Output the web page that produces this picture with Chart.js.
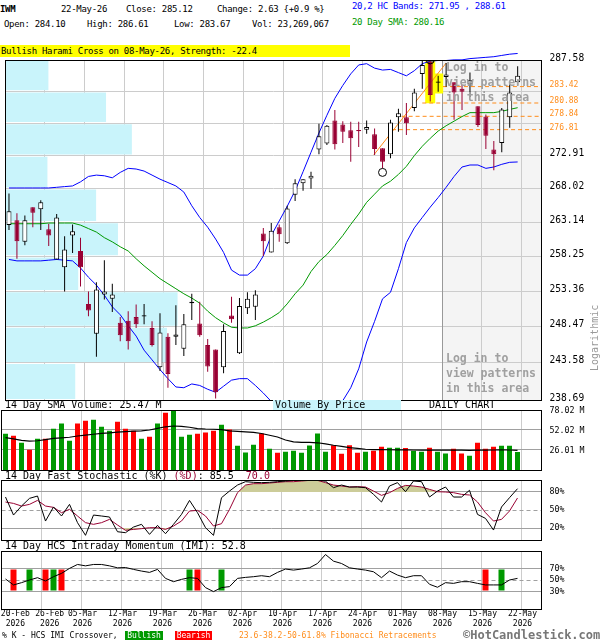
<!DOCTYPE html>
<html>
<head>
<meta charset="utf-8">
<script src="https://cdn.jsdelivr.net/npm/chart.js@4.4.1/dist/chart.umd.min.js"></script>
<style>
  body { margin: 0; width: 600px; height: 640px; position: relative; overflow: hidden; background: #fff;
         font-family: 'DejaVu Sans Mono', monospace; color: #000; }
  .t { position: absolute; white-space: pre; line-height: 12px; }
  .hd { font-size: 9px; letter-spacing: -0.3px; }
  .ttl { font-size: 10px; }
  .sm { font-size: 8px; }
  canvas { position: absolute; left: 0; }
  .login { position: absolute; left: 446px; font-size: 11.5px; font-weight: bold; color: #a0a0a0;
           line-height: 15px; white-space: pre; }
</style>
</head>
<body>
<div class="t hd" style="left:0;top:3px;font-weight:bold">IWM</div>
<div class="t hd" style="left:61px;top:3px">22-May-26</div>
<div class="t hd" style="left:126px;top:3px">Close: 285.12</div>
<div class="t hd" style="left:217px;top:3px">Change: 2.63 {+0.9 %}</div>
<div class="t hd" style="left:352px;top:0px;color:#0000ff">20,2 HC Bands: 271.95 , 288.61</div>
<div class="t hd" style="left:4px;top:18px">Open: 284.10</div>
<div class="t hd" style="left:87px;top:18px">High: 286.61</div>
<div class="t hd" style="left:174px;top:18px">Low: 283.67</div>
<div class="t hd" style="left:252px;top:18px">Vol: 23,269,067</div>
<div class="t hd" style="left:352px;top:16px;color:#009900">20 Day SMA: 280.16</div>
<div class="t hd" style="left:0;top:45px;width:349px;height:12px;background:#ffff00;padding-left:1px">Bullish Harami Cross on 08-May-26, Strength: -22.4</div>

<canvas id="main" width="600" height="360" style="top:50px"></canvas>
<canvas id="vol" width="600" height="75" style="top:400px"></canvas>
<canvas id="stoch" width="600" height="75" style="top:470px"></canvas>
<canvas id="imi" width="600" height="100" style="top:540px"></canvas>

<div class="login" style="top:60px">Log in to
view patterns
in this area</div>
<div class="login" style="top:351px">Log in to
view patterns
in this area</div>
<div class="t" style="left:562px;top:332px;width:66px;text-align:center;font-size:10px;color:#999;transform:rotate(-90deg)">Logarithmic</div>

<div class="t ttl" style="left:5px;top:399px">14 Day SMA Volume: 25.47 M</div>
<div class="t ttl" style="left:273px;top:400px;width:128px;height:10px;line-height:10px;background:#c9f4fb;padding-left:2px;box-sizing:border-box">Volume By Price</div>
<div class="t ttl" style="left:429px;top:399px">DAILY CHART</div>
<div class="t ttl" style="left:5px;top:470px">14 Day Fast Stochastic (%K) <span style="color:#990033">(%D)</span>: 85.5  <span style="color:#990033">70.0</span></div>
<div class="t ttl" style="left:5px;top:540px">14 Day HCS Intraday Momentum (IMI): 52.8</div>

<div class="t sm" style="left:2px;top:630px">% K - HCS IMI Crossover,</div>
<div class="t sm" style="left:125px;top:631px;width:38px;height:9px;line-height:9px;background:#009900;color:#fff;text-align:center">Bullish</div>
<div class="t sm" style="left:175px;top:631px;width:37px;height:9px;line-height:9px;background:#ff0000;color:#fff;text-align:center">Bearish</div>
<div class="t sm" style="left:239px;top:630px;color:#ff8c1a">23.6-38.2-50-61.8% Fibonacci Retracements</div>
<div class="t" style="left:463px;top:629px;font-size:12px;font-weight:bold;color:#777">&copy;HotCandlestick.com</div>

<script>
const dates = [
  '20-Feb','23-Feb','24-Feb','25-Feb','26-Feb','27-Feb',
  '02-Mar','03-Mar','04-Mar','05-Mar','06-Mar',
  '09-Mar','10-Mar','11-Mar','12-Mar','13-Mar',
  '16-Mar','17-Mar','18-Mar','19-Mar','20-Mar',
  '23-Mar','24-Mar','25-Mar','26-Mar','27-Mar',
  '30-Mar','31-Mar','01-Apr','02-Apr',
  '06-Apr','07-Apr','08-Apr','09-Apr','10-Apr',
  '13-Apr','14-Apr','15-Apr','16-Apr','17-Apr',
  '20-Apr','21-Apr','22-Apr','23-Apr','24-Apr',
  '27-Apr','28-Apr','29-Apr','30-Apr','01-May',
  '04-May','05-May','06-May','07-May','08-May',
  '11-May','12-May','13-May','14-May','15-May',
  '18-May','19-May','20-May','21-May','22-May'
];

const opens = [262.7, 263.4, 260.3, 265.3, 265.0, 262.1, 257.8, 256.7, 261.2, 259.0,
  251.6, 247.5, 252.9, 252.3, 249.0, 249.3, 249.8, 249.85, 248.3, 243.0,
  247.1, 247.1, 245.5, 251.7, 248.9, 246.0, 245.4, 243.0, 250.0, 244.9,
  251.0, 251.2, 261.5, 258.8, 262.4, 260.1, 267.1, 268.8, 269.5, 273.8,
  274.7, 278.2, 277.6, 276.7, 276.75, 276.8, 276.1, 274.0, 273.1, 278.7,
  278.7, 280.1, 285.4, 287.3, 284.0, 284.9, 284.1, 283.1, 283.8, 280.4,
  278.8, 273.8, 274.8, 278.7, 284.10];
const highs = [267.3, 264.4, 264.1, 265.3, 266.3, 262.9, 264.3, 261.1, 262.8, 260.9,
  253.3, 254.6, 257.7, 254.4, 249.8, 250.6, 251.5, 251.6, 249.2, 250.3,
  247.6, 251.4, 250.2, 253.0, 251.9, 246.8, 245.4, 248.8, 252.6, 252.4,
  253.2, 253.5, 262.3, 263.0, 262.8, 265.5, 269.4, 269.4, 270.5, 277.7,
  277.5, 279.8, 278.1, 278.0, 278.0, 278.2, 277.0, 274.0, 278.3, 280.0,
  280.9, 283.1, 287.6, 287.5, 285.1, 287.1, 284.1, 283.7, 285.6, 280.4,
  279.1, 275.1, 280.1, 283.8, 286.61];
const lows = [262.0, 257.9, 259.8, 262.4, 262.0, 259.7, 257.8, 253.3, 258.7, 254.0,
  249.9, 244.4, 252.2, 250.5, 246.5, 245.4, 248.3, 248.8, 245.8, 242.5,
  240.3, 246.0, 244.5, 249.4, 247.1, 242.4, 238.9, 242.2, 249.0, 244.8,
  250.2, 249.4, 258.3, 258.8, 260.3, 260.0, 266.2, 267.7, 268.0, 273.1,
  274.5, 273.8, 274.8, 272.0, 274.2, 276.2, 273.0, 271.0, 272.5, 276.5,
  276.0, 279.6, 283.1, 281.1, 282.6, 283.4, 278.3, 279.8, 281.8, 277.2,
  273.9, 270.7, 273.4, 277.1, 283.67];
const closes = [264.7, 260.4, 263.4, 264.5, 266.0, 261.2, 263.8, 259.2, 261.8, 256.7,
  250.7, 253.6, 253.3, 252.9, 247.3, 246.5, 248.8, 250.05, 246.0, 247.7,
  242.1, 247.4, 248.8, 251.9, 247.3, 243.1, 239.7, 247.9, 249.5, 251.3,
  252.3, 252.9, 260.4, 261.9, 261.4, 265.1, 268.8, 269.4, 269.9, 275.8,
  277.4, 274.6, 276.5, 275.5, 276.55, 277.2, 273.9, 272.0, 277.9, 279.3,
  277.8, 282.5, 286.8, 282.1, 284.2, 285.3, 282.5, 282.6, 284.4, 277.5,
  275.9, 273.1, 279.9, 282.5, 285.12];

const upperBand = [268.1, 268.1, 268.1, 268.1, 268.1, 268.1, 268.2, 268.3, 268.4, 269.0,
  269.8, 270.0, 269.9, 269.6, 270.4, 271.0, 270.9, 270.6, 270.0, 269.4,
  268.9, 268.4, 267.5, 265.5, 263.8, 262.4, 260.7, 258.8, 256.3, 255.6,
  255.6, 256.5, 258.3, 261.2, 263.3, 265.4, 267.7, 270.5, 273.4, 276.3,
  279.0, 281.6, 283.6, 285.4, 286.8, 287.0, 286.3, 286.0, 286.1, 285.6,
  285.1, 285.9, 287.0, 287.4, 287.5, 287.5, 287.6, 287.6, 287.8, 287.9,
  288.0, 288.1, 288.3, 288.5, 288.61];
const lowerBand = [257.8, 257.6, 257.6, 257.6, 257.6, 257.7, 257.8, 257.7, 257.6, 256.6,
  255.3, 254.2, 252.8, 251.2, 250.1, 248.6, 247.2, 245.3, 244.0, 242.7,
  241.5, 240.4, 240.3, 240.8, 240.6, 240.1, 239.7, 240.5, 241.3, 241.5,
  241.5, 240.6, 239.6, 238.5, 237.0, 235.5, 234.5, 234.0, 234.0, 234.5,
  235.5, 237.0, 238.6, 240.3, 242.8, 246.4, 249.2, 252.3, 253.2, 256.5,
  260.2, 262.3, 263.8, 265.3, 266.7, 268.2, 269.8, 271.2, 271.5, 271.5,
  271.0, 271.2, 271.6, 271.9, 271.95];
const sma20 = [262.9, 262.9, 262.9, 262.9, 262.9, 263.0, 263.0, 263.0, 263.0, 262.7,
  262.2, 261.7, 260.9, 260.3, 259.6, 259.0, 257.9, 256.9, 256.0, 255.1,
  254.4, 253.7, 253.0, 252.4, 251.7, 250.6, 249.7, 249.0, 248.4, 248.3,
  248.3, 248.6, 249.1, 249.7, 250.4, 251.6, 253.0, 254.2, 256.1, 257.5,
  258.5, 259.8, 261.2, 262.8, 264.3, 266.0, 267.2, 268.4, 269.1, 270.1,
  271.3, 272.9, 274.3, 275.5, 276.6, 277.4, 278.1, 278.8, 279.4, 279.4,
  279.4, 279.4, 279.6, 279.9, 280.16];

// volume in millions of shares
const volumes = [47.2, 44.6, 35.5, 26.4, 40.7, 40.7, 53.7, 60.6, 38.1, 60.6,
  64.1, 65.4, 56.3, 51.1, 62.8, 53.7, 51.1, 40.7, 43.3, 60.6,
  74.5, 77.5, 43.3, 45.9, 47.2, 48.9, 51.1, 58.9, 52.8, 31.6,
  22.9, 32.9, 47.6, 27.7, 22.5, 23.8, 25.1, 22.5, 32.0, 47.6,
  23.8, 32.3, 21.2, 32.3, 22.5, 23.8, 25.1, 30.3, 29.0, 29.0,
  28.6, 25.1, 23.8, 29.0, 23.8, 21.6, 27.7, 21.6, 18.6, 35.5,
  27.7, 30.3, 31.6, 31.6, 23.27];
const volumeSma = [42.0, 40.5, 38.5, 37.5, 38.0, 39.5, 41.0, 41.8, 42.6, 44.2,
  45.3, 46.5, 47.5, 48.2, 49.3, 49.8, 50.5, 50.8, 52.0, 54.1,
  56.2, 57.2, 56.8, 55.6, 53.9, 53.3, 53.0, 52.6, 51.0, 50.3,
  49.6, 48.8, 47.5, 45.2, 42.9, 39.0, 36.6, 36.0, 35.8, 35.4,
  34.0, 32.2, 30.8, 29.2, 28.2, 27.0, 26.6, 26.4, 26.3, 26.2,
  26.2, 26.0, 25.9, 25.9, 25.9, 25.8, 25.8, 25.8, 25.6, 25.8,
  25.9, 26.0, 26.1, 26.0, 25.47];

const stochK = [71.6, 41.6, 56.6, 69.4, 73.3, 31.6, 55.0, 40.0, 59.4, 28.9,
  7.8, 41.6, 40.0, 38.3, 13.8, 12.2, 21.6, 26.1, 9.4, 24.4,
  10.5, 26.1, 42.7, 66.0, 45.5, 20.5, 7.8, 70.5, 81.6, 91.6,
  97.2, 96.1, 95.6, 96.1, 97.2, 98.3, 99.4, 99.4, 99.4, 100,
  98.0, 87.2, 91.6, 88.3, 88.3, 87.2, 76.1, 63.3, 90.0, 95.6,
  80.5, 98.3, 97.2, 71.6, 81.6, 88.3, 71.6, 71.6, 82.8, 42.7,
  36.0, 16.6, 55.0, 70.5, 85.5];
const stochD = [63.3, 61.0, 56.6, 59.4, 66.0, 56.6, 54.4, 45.5, 51.1, 40.0,
  28.9, 26.1, 28.9, 34.4, 25.0, 16.1, 17.7, 18.9, 20.5, 20.5,
  17.7, 23.3, 31.6, 48.3, 49.4, 40.0, 23.3, 27.2, 51.1, 78.9,
  91.6, 93.9, 93.9, 95.0, 96.1, 97.2, 97.2, 98.3, 99.4, 99.4,
  95.6, 91.6, 90.0, 88.3, 88.9, 88.3, 81.6, 74.4, 78.9, 86.0,
  91.0, 90.0, 88.3, 84.4, 80.5, 80.0, 78.9, 76.1, 75.0, 63.3,
  45.5, 31.6, 34.4, 48.3, 70.0];

const imi = [51.7, 41.5, 45.4, 50.0, 54.0, 48.3, 55.7, 61.4, 70.0, 76.8,
  74.4, 76.8, 76.8, 74.4, 71.0, 71.5, 68.3, 65.4, 63.1, 68.3,
  52.8, 47.1, 51.1, 54.0, 52.8, 36.9, 30.0, 36.9, 38.6, 52.8,
  54.5, 55.7, 57.4, 55.7, 63.1, 68.9, 67.1, 68.9, 71.0, 78.5,
  93.9, 82.5, 78.5, 71.0, 68.9, 67.1, 64.2, 54.0, 65.4, 58.5,
  54.0, 57.4, 57.4, 42.6, 37.5, 45.4, 44.2, 47.1, 47.1, 44.2,
  41.5, 41.5, 41.5, 50.0, 52.8];
const bullishCross = ['25-Feb', '02-Mar', '25-Mar', '31-Mar', '20-May'];
const bearishCross = ['23-Feb', '27-Feb', '03-Mar', '26-Mar', '18-May'];
const crossBand = [32, 68];

const priceTicks = [238.69, 243.58, 248.47, 253.36, 258.25, 263.14, 268.02, 272.91, 277.80, 282.69, 287.58];
const hiddenPriceTicks = [277.80, 282.69];
const fibLevels = [276.81, 278.84, 280.88, 283.42];
const fibStart = [48.2, 49.4, 52.0, 54.6];
const fibSwing = [{ x: 45.9, y: 273.0 }, { x: 55.0, y: 287.1 }];

// volume by price, one value per price grid step from the bottom (relative units)
const vbpVolume = [70.7, 163.0, 173.7, 73.7, 113.7, 91.7, 42.7, 127.7, 101.7, 43.7];

const pivots = [{ x: 47, y: 270.4 }, { x: 53, y: 287.6 }];
const patternDays = ['07-May', '08-May'];
const lockedFrom = '08-May';

const tickDates = ['20-Feb', '26-Feb', '05-Mar', '12-Mar', '19-Mar', '26-Mar', '02-Apr',
  '10-Apr', '17-Apr', '24-Apr', '01-May', '08-May', '15-May', '22-May'];
const labelLead = ['  ', '   '];
const volumeTicks = [26.01, 52.02, 78.02];
const stochTicks = [20, 50, 80];
const imiTicks = [30, 50, 70];

const mono = "'DejaVu Sans Mono', monospace";
const candleRed = '#990033';
const fibColor = '#ff8c1a';

Chart.defaults.font.family = mono;
Chart.defaults.animation = false;
Chart.defaults.responsive = false;
Chart.defaults.plugins.legend.display = false;
Chart.defaults.plugins.tooltip.enabled = false;

const idx = dates.map((d, i) => i);
const isUp = (i) => closes[i] >= opens[i];
const labelIdx = tickDates.map(d => dates.indexOf(d) + 0.5);
const gridIdx = labelIdx.slice(1);
const pts = (arr) => arr.map((v, i) => ({ x: i, y: v }));

const frame = {
  id: 'frame',
  afterDraw(chart) {
    const a = chart.chartArea, c = chart.ctx;
    const l = Math.floor(a.left), t = Math.floor(a.top), r = Math.floor(a.right), b = Math.floor(a.bottom);
    c.save();
    c.strokeStyle = '#000';
    c.lineWidth = 1;
    c.strokeRect(l + 0.5, t + 0.5, r - l, b - t);
    c.restore();
  }
};

const lockedArea = {
  id: 'lockedArea',
  beforeDraw(chart) {
    const a = chart.chartArea, c = chart.ctx;
    const left = chart.scales.x.getPixelForValue(dates.indexOf(lockedFrom) + 0.5);
    c.save();
    c.fillStyle = '#f4f4f4';
    c.fillRect(left, a.top, a.right - left, a.bottom - a.top);
    c.restore();
  },
  beforeDatasetsDraw(chart) {
    const a = chart.chartArea, c = chart.ctx;
    const left = Math.floor(chart.scales.x.getPixelForValue(dates.indexOf(lockedFrom) + 0.5)) + 0.5;
    c.save();
    c.strokeStyle = '#999';
    c.beginPath();
    c.moveTo(left, a.top);
    c.lineTo(left, a.bottom);
    c.stroke();
    c.restore();
  }
};

function gridAxis() {
  return {
    type: 'linear', min: -0.5, max: 67, offset: false,
    afterBuildTicks: (s) => { s.ticks = gridIdx.map(v => ({ value: v })); },
    afterFit: (s) => { s.height = 0; s.paddingLeft = 0; s.paddingRight = 0; },
    grid: { color: '#cccccc', drawTicks: false, offset: false },
    border: { display: false },
    ticks: { display: false }
  };
}

function panelAxis(min, max, ticks, fmt, dashAt, shift) {
  return {
    type: 'linear', position: 'right', min: min, max: max,
    afterBuildTicks: (s) => { s.ticks = ticks.map(v => ({ value: v })); },
    afterFit: (s) => { s.width = 58.5; s.paddingTop = 0; s.paddingBottom = 0; },
    grid: { color: '#a0a0a0', drawTicks: false },
    border: { display: false, dash: (c) => (c.tick && c.tick.value === dashAt) ? [4, 3] : [] },
    ticks: { autoSkip: false, padding: 8, labelOffset: shift || 0, color: '#000', font: { size: 8.3 }, callback: fmt }
  };
}

// price panel
const candleColor = idx.map(i => isUp(i) ? '#000000' : candleRed);
const bodyFill = idx.map(i => isUp(i) ? '#ffffff' : candleRed);
const lineStyle = { type: 'line', borderWidth: 1, pointRadius: 0, tension: 0 };

const fibDatasets = fibLevels.map((lvl, k) => Object.assign({}, lineStyle, {
  data: [{ x: fibStart[k], y: lvl }, { x: 67, y: lvl }],
  borderColor: fibColor, borderDash: [4, 3], order: 4
}));

// each band is filled between two grid levels, leaving the grid line itself visible
const vbpDatasets = vbpVolume.map((v, k) => {
  const lo = priceTicks[k] * 1.0006, hi = priceTicks[k + 1] / 1.0006;
  return {
    type: 'line', xAxisID: 'xv', fill: 'shape', backgroundColor: '#c9f4fb',
    borderColor: 'rgba(0,0,0,0)', borderWidth: 1, pointRadius: 0, order: 9,
    data: [{ x: 0, y: lo }, { x: v, y: lo }, { x: v, y: hi }, { x: 0, y: hi }]
  };
});

new Chart(document.getElementById('main'), {
  type: 'bar',
  data: {
    datasets: [
      { type: 'line', data: pivots, showLine: false, pointRadius: 4, pointBorderWidth: 1,
        pointBorderColor: '#000', pointBackgroundColor: 'rgba(0,0,0,0)', order: 0 },
      { data: idx.map(i => ({ x: i, y: [opens[i], closes[i]] })), backgroundColor: bodyFill,
        borderColor: candleColor, borderWidth: 1, borderSkipped: false, barThickness: 5,
        grouped: false, inflateAmount: 0, order: 1 },
      { data: idx.map(i => ({ x: i, y: [lows[i], highs[i]] })), backgroundColor: candleColor,
        borderWidth: 0, barThickness: 1, grouped: false, inflateAmount: 0, order: 2 },
      Object.assign({}, lineStyle, { data: pts(upperBand), borderColor: '#0000ff',
        clip: { left: 0, top: false, right: 0, bottom: 0 }, order: 3 }),
      Object.assign({}, lineStyle, { data: pts(lowerBand), borderColor: '#0000ff', order: 3 }),
      Object.assign({}, lineStyle, { data: pts(sma20), borderColor: '#009900', order: 3 }),
      Object.assign({}, lineStyle, { data: fibSwing, borderColor: fibColor, order: 4 }),
      ...fibDatasets,
      { data: patternDays.map(d => dates.indexOf(d)).map(i => ({ x: i, y: [lows[i] - 0.25, highs[i] + 0.35] })),
        backgroundColor: '#ffff00', barThickness: 10, grouped: false, inflateAmount: 0, order: 8 },
      ...vbpDatasets
    ]
  },
  options: {
    layout: { padding: { left: 1.5, top: 10, bottom: 10, right: 0 } },
    scales: {
      x: gridAxis(),
      xv: { type: 'linear', axis: 'x', position: 'top', display: false, offset: false,
            grid: { offset: false }, min: 0, max: 540 },
      y: {
        type: 'logarithmic', position: 'right', min: priceTicks[0], max: priceTicks[priceTicks.length - 1],
        afterBuildTicks: (s) => {
          s.ticks = priceTicks.concat(fibLevels).sort((a, b) => a - b).map(v => ({ value: v }));
        },
        afterFit: (s) => { s.width = 58.5; s.paddingTop = 0; s.paddingBottom = 0; },
        grid: {
          color: (c) => (c.tick && fibLevels.includes(c.tick.value)) ? 'rgba(0,0,0,0)' : '#cccccc',
          drawTicks: false
        },
        border: { display: false },
        ticks: {
          autoSkip: false, padding: 8, labelOffset: -2,
          color: (c) => (c.tick && fibLevels.includes(c.tick.value)) ? fibColor : '#000',
          font: (c) => ({ family: mono, size: (c.tick && fibLevels.includes(c.tick.value)) ? 8 : 9.6 }),
          callback: (v) => hiddenPriceTicks.includes(v) ? '' : Number(v).toFixed(2)
        }
      }
    }
  },
  plugins: [lockedArea, frame]
});

// volume panel
new Chart(document.getElementById('vol'), {
  type: 'bar',
  data: {
    datasets: [
      Object.assign({}, lineStyle, { data: pts(volumeSma), borderColor: '#000', borderWidth: 1.2 }),
      { data: pts(volumes), backgroundColor: idx.map(i => isUp(i) ? '#009900' : '#ff0000'),
        barThickness: 5, grouped: false, inflateAmount: 0 }
    ]
  },
  options: {
    layout: { padding: { left: 1.5, top: 10, bottom: 5, right: 0 } },
    scales: {
      x: gridAxis(),
      y: panelAxis(0, volumeTicks[volumeTicks.length - 1], volumeTicks, (v) => Number(v).toFixed(2) + ' M', null, 1)
    }
  },
  plugins: [frame]
});

// stochastic panel
new Chart(document.getElementById('stoch'), {
  type: 'line',
  data: {
    datasets: [
      Object.assign({}, lineStyle, { data: pts(stochK), borderColor: '#000' }),
      Object.assign({}, lineStyle, { data: pts(stochD), borderColor: candleRed,
        fill: { target: { value: stochTicks[2] }, above: '#cccc99', below: 'rgba(0,0,0,0)' } }),
      Object.assign({}, lineStyle, { data: pts(stochD), borderColor: 'rgba(0,0,0,0)',
        fill: { target: { value: stochTicks[0] }, above: 'rgba(0,0,0,0)', below: '#cccc99' } })
    ]
  },
  options: {
    layout: { padding: { left: 1.5, top: 10, bottom: 5, right: 0 } },
    scales: {
      x: gridAxis(),
      y: panelAxis(0, 100, stochTicks, (v) => v + '%', 50)
    }
  },
  plugins: [frame]
});

// momentum panel
const crossData = (list) => list.map(d => ({ x: dates.indexOf(d), y: crossBand }));
const dateAxis = Object.assign(gridAxis(), {
  afterBuildTicks: (s) => { s.ticks = labelIdx.map(v => ({ value: v })); },
  afterFit: (s) => { s.height = 23; s.paddingLeft = 0; s.paddingRight = 0; },
  grid: { offset: false, drawTicks: false,
    color: (c) => (c.tick && c.tick.value === labelIdx[0]) ? 'rgba(0,0,0,0)' : '#cccccc' },
  ticks: {
    autoSkip: false, maxRotation: 0, minRotation: 0, padding: 0, labelOffset: 1,
    color: '#000', font: { size: 8, lineHeight: 1.25 },
    callback: (v) => {
      const k = labelIdx.indexOf(v);
      const lead = labelLead[k] || '';
      return [lead + tickDates[k], lead + '2026'];
    }
  }
});

new Chart(document.getElementById('imi'), {
  type: 'bar',
  data: {
    datasets: [
      Object.assign({}, lineStyle, { data: pts(imi), borderColor: '#000' }),
      { data: crossData(bearishCross), backgroundColor: '#ff0000', barThickness: 6, grouped: false, inflateAmount: 0 },
      { data: crossData(bullishCross), backgroundColor: '#009900', barThickness: 6, grouped: false, inflateAmount: 0 }
    ]
  },
  options: {
    layout: { padding: { left: 1.5, top: 11, bottom: 8, right: 0 } },
    scales: {
      x: dateAxis,
      y: panelAxis(0, 100, imiTicks, (v) => v + '%', 50)
    }
  },
  plugins: [frame]
});
</script>
</body>
</html>
